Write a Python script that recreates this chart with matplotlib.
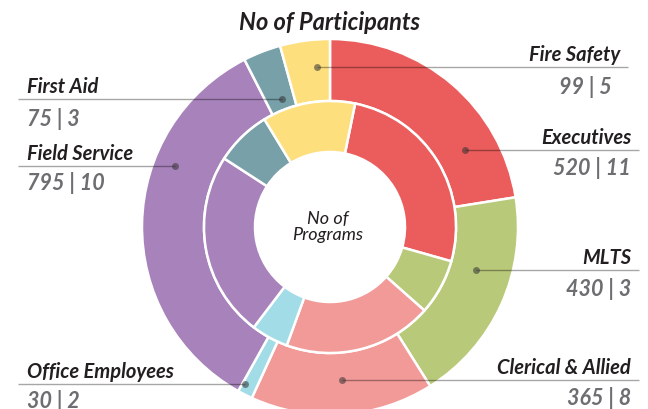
import numpy as np
import matplotlib
matplotlib.use("Agg")
import matplotlib.pyplot as plt

# ---- data ----
categories = ["Executives", "MLTS", "Clerical & Allied", "Office Employees",
              "Field Service", "First Aid", "Fire Safety"]
participants = [520, 430, 365, 30, 795, 75, 99]
programs = [11, 3, 8, 2, 10, 3, 5]
colors = ["#EA5D5C", "#B9C97A", "#F29A98", "#A1DCE7", "#A882BB", "#77A0A8", "#FEDF7E"]
title = "No of Participants"
center_text = "No of\nPrograms"

# ---- layout (pixels) ----
W, H = 648, 410
CX, CY = 330, H - 228
R_OUT, W_OUT = 188, 62
R_IN, W_IN = 126, 51
INNER_OFFSET = 11.5  # degrees clockwise the inner ring is rotated

# leader dot placement: fraction along wedge, radius
dot_frac = [0.745, 0.38, 0.49, 0.81, 0.665, 0.55, 0.70]
dot_rad = [155, 152, 153, 178.5, 166.6, 136.7, 160.5]
side = ["R", "R", "R", "L", "L", "L", "R"]
text_x = [631, 631, 631, 27, 27, 27, 620]
line_end = [639, 639, 639, 18, 18, 18, 628]
value_off = [17, 18, 17, 15.5, 16, 19, 19]

fig = plt.figure(figsize=(W / 100, H / 100), dpi=100)
ax = fig.add_axes([0, 0, 1, 1])

ax.pie(participants, radius=R_OUT, center=(CX, CY), startangle=90, counterclock=False,
       colors=colors, wedgeprops=dict(width=W_OUT, edgecolor="white", linewidth=1.8))
ax.pie(programs, radius=R_IN, center=(CX, CY), startangle=90 - INNER_OFFSET,
       counterclock=False, colors=colors,
       wedgeprops=dict(width=W_IN, edgecolor="white", linewidth=1.8))

ax.set_xlim(0, W)
ax.set_ylim(0, H)
ax.set_aspect("equal")
ax.axis("off")

FONT = "Lato"
label_color = "#231F20"
value_color = "#6D6E71"

total = float(sum(participants))
start = 0.0
for i, cat in enumerate(categories):
    span = participants[i] / total * 360.0
    ang = np.deg2rad(start + dot_frac[i] * span)  # clockwise from top
    start += span
    dx = dot_rad[i] * np.sin(ang)
    dy = dot_rad[i] * np.cos(ang)
    px, py = CX + dx, CY + dy
    ax.plot([px, line_end[i]], [py, py], color="black", alpha=0.35, lw=1.0,
            solid_capstyle="butt", zorder=5)
    ax.plot([px], [py], marker="o", ms=5, color="#333333", alpha=0.55,
            mec="none", zorder=6)
    ha = "right" if side[i] == "R" else "left"
    ax.text(text_x[i], py + 7, cat, ha=ha, va="baseline", fontsize=14.5,
            fontfamily=FONT, fontweight="bold", fontstyle="italic", color=label_color)
    vx = text_x[i] - 8 if cat == "Fire Safety" else text_x[i]
    ax.text(vx, py - value_off[i], f"{participants[i]} | {programs[i]}", ha=ha,
            va="center", fontsize=15.5, fontfamily=FONT, fontweight="bold",
            fontstyle="italic", color=value_color)

ax.text(CX, H - 22, title, ha="center", va="center", fontsize=17, fontfamily=FONT,
        fontweight="bold", fontstyle="italic", color=label_color)
ax.text(CX - 2, CY + 1, center_text, ha="center", va="center", fontsize=13,
        fontfamily=FONT, fontstyle="italic", color=label_color, linespacing=0.95)

fig.savefig("out.png", dpi=100)
